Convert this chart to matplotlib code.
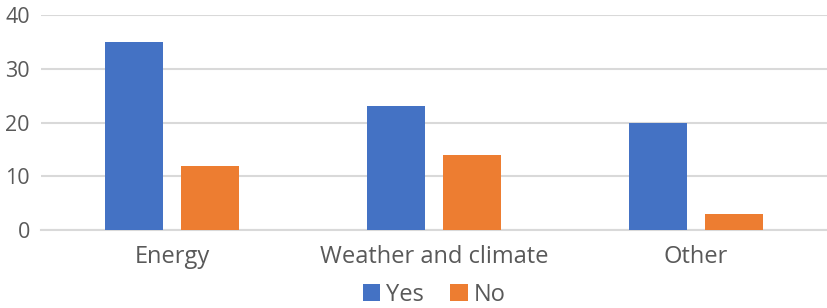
import matplotlib.pyplot as plt
import numpy as np

plt.rcParams['font.family'] = ['Open Sans', 'DejaVu Sans']

categorias = ['Energy', 'Weather and climate', 'Other']
valoresYes = [35, 23, 20]
valoresNo = [12, 14, 3]
ticksY = [0, 10, 20, 30, 40]

azul = '#4472C4'
naranja = '#ED7D31'
gris = '#595959'

fig = plt.figure(figsize=(8.27, 3.08), dpi=100)
ax = fig.add_axes([0.0496, 0.2532, 0.9504, 0.698])

x = np.arange(len(categorias))
ancho = 0.22
ax.bar(x - 0.145, valoresYes, ancho, color=azul, label='Yes', zorder=3)
ax.bar(x + 0.145, valoresNo, ancho, color=naranja, label='No', zorder=3)

ax.set_xlim(-0.5, 2.5)
ax.set_ylim(0, 40)
ax.set_yticks(ticksY)
ax.set_xticks(x)
ax.set_xticklabels(categorias)
ax.yaxis.grid(True, color='#d9d9d9', linewidth=1.5, zorder=0)
ax.tick_params(axis='y', length=0, labelsize=15.5, colors=gris, pad=8)
ax.tick_params(axis='x', length=0, labelsize=17, colors=gris, pad=11)
for lado in ['top', 'right', 'left']:
    ax.spines[lado].set_visible(False)
ax.spines['bottom'].set_color('#d9d9d9')
ax.spines['bottom'].set_linewidth(1.5)

ax.legend(loc='center', bbox_to_anchor=(0.5, -0.30), ncol=2, frameon=False,
          fontsize=17, labelcolor=gris, handlelength=0.75, handleheight=0.75,
          handletextpad=0.25, columnspacing=1.1)

fig.savefig('out.png', dpi=100)
